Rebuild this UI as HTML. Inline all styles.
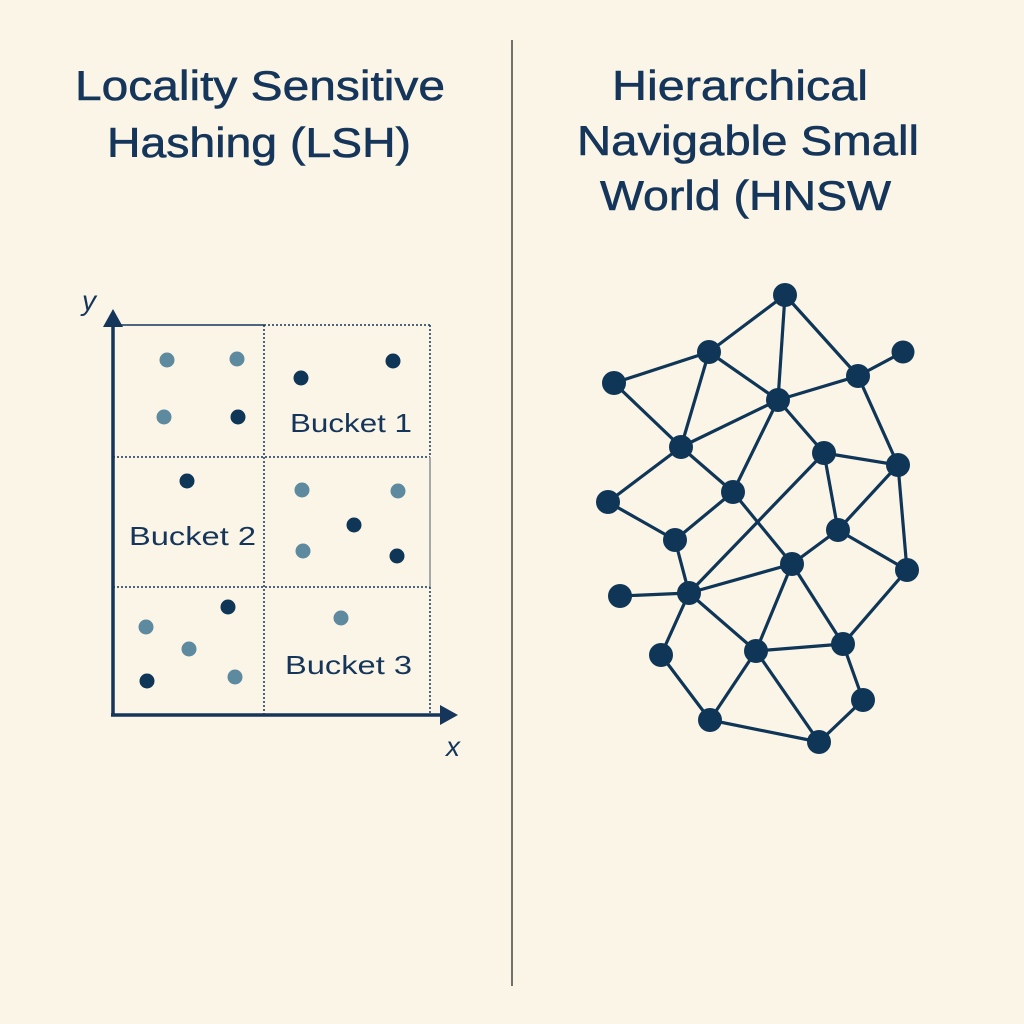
<!DOCTYPE html>
<html><head><meta charset="utf-8"><style>
html,body{margin:0;padding:0;background:#fbf5e7;}
svg{display:block}
text{font-family:"Liberation Sans",sans-serif;fill:#15365a;}
</style></head><body>
<svg width="1024" height="1024" viewBox="0 0 1024 1024" xmlns="http://www.w3.org/2000/svg">
<rect width="1024" height="1024" fill="#fbf5e7"/>
<line x1="512" y1="40" x2="512" y2="986" stroke="#2a2a2a" stroke-width="1.3"/>
<g font-size="42" stroke="#15365a" stroke-width="0.6">
<text x="75" y="100" textLength="370" lengthAdjust="spacingAndGlyphs">Locality Sensitive</text>
<text x="107" y="157" textLength="304" lengthAdjust="spacingAndGlyphs">Hashing (LSH)</text>
<text x="612" y="100" textLength="256" lengthAdjust="spacingAndGlyphs">Hierarchical</text>
<text x="577" y="155" textLength="342" lengthAdjust="spacingAndGlyphs">Navigable Small</text>
<text x="600" y="210" textLength="291" lengthAdjust="spacingAndGlyphs">World (HNSW</text>
</g>
<!-- grid -->
<g stroke="#15365a" stroke-width="1.5" stroke-dasharray="2 2" fill="none">
<line x1="264" y1="325" x2="430" y2="325"/>
<line x1="264" y1="325" x2="264" y2="715"/>
<line x1="430" y1="325" x2="430" y2="457"/>
<line x1="430" y1="587" x2="430" y2="715"/>
<line x1="113" y1="457" x2="430" y2="457"/>
<line x1="113" y1="587" x2="430" y2="587"/>
</g>
<line x1="113" y1="325" x2="264" y2="325" stroke="#15365a" stroke-width="1.5"/>
<line x1="430" y1="457" x2="430" y2="587" stroke="#8a8f96" stroke-width="1.5"/>
<line x1="113" y1="715" x2="113" y2="325" stroke="#15365a" stroke-width="3.5"/>
<line x1="111" y1="715" x2="440" y2="715" stroke="#15365a" stroke-width="3.5"/>
<polygon points="113,309 103,327 123,327" fill="#15365a"/>
<polygon points="458,715 440,705 440,725" fill="#15365a"/>
<text x="82" y="310" font-size="28" font-style="italic">y</text>
<text x="446" y="756" font-size="28" font-style="italic">x</text>
<g fill="#5e8aa0">
<circle cx="167" cy="360" r="7.5"/><circle cx="237" cy="359" r="7.5"/><circle cx="164" cy="417" r="7.5"/>
<circle cx="302" cy="490" r="7.5"/><circle cx="398" cy="491" r="7.5"/><circle cx="303" cy="551" r="7.5"/>
<circle cx="146" cy="627" r="7.5"/><circle cx="189" cy="649" r="7.5"/><circle cx="235" cy="677" r="7.5"/>
<circle cx="341" cy="618" r="7.5"/>
</g>
<g fill="#0f3557">
<circle cx="238" cy="417" r="7.5"/><circle cx="301" cy="378" r="7.5"/><circle cx="393" cy="361" r="7.5"/>
<circle cx="187" cy="481" r="7.5"/><circle cx="354" cy="525" r="7.5"/><circle cx="397" cy="556" r="7.5"/>
<circle cx="228" cy="607" r="7.5"/><circle cx="147" cy="681" r="7.5"/>
</g>
<g font-size="26">
<text x="290" y="432" textLength="122" lengthAdjust="spacingAndGlyphs">Bucket 1</text>
<text x="129" y="545" textLength="127" lengthAdjust="spacingAndGlyphs">Bucket 2</text>
<text x="285" y="674" textLength="127" lengthAdjust="spacingAndGlyphs">Bucket 3</text>
</g>
<!-- graph -->
<g stroke="#0f3557" stroke-width="3.2">
<line x1="785" y1="295" x2="709" y2="352"/><line x1="785" y1="295" x2="778" y2="400"/><line x1="785" y1="295" x2="858" y2="376"/>
<line x1="858" y1="376" x2="903" y2="352"/><line x1="709" y1="352" x2="614" y2="383"/><line x1="709" y1="352" x2="778" y2="400"/>
<line x1="709" y1="352" x2="681" y2="447"/><line x1="614" y1="383" x2="681" y2="447"/><line x1="778" y1="400" x2="858" y2="376"/>
<line x1="778" y1="400" x2="681" y2="447"/><line x1="778" y1="400" x2="733" y2="492"/><line x1="778" y1="400" x2="824" y2="453"/>
<line x1="858" y1="376" x2="898" y2="465"/><line x1="824" y1="453" x2="898" y2="465"/><line x1="824" y1="453" x2="838" y2="530"/>
<line x1="824" y1="453" x2="689" y2="593"/><line x1="898" y1="465" x2="838" y2="530"/><line x1="898" y1="465" x2="907" y2="570"/>
<line x1="681" y1="447" x2="608" y2="502"/><line x1="681" y1="447" x2="733" y2="492"/><line x1="608" y1="502" x2="675" y2="540"/>
<line x1="733" y1="492" x2="675" y2="540"/><line x1="733" y1="492" x2="792" y2="564"/><line x1="838" y1="530" x2="792" y2="564"/>
<line x1="838" y1="530" x2="907" y2="570"/><line x1="675" y1="540" x2="689" y2="593"/><line x1="620" y1="596" x2="689" y2="593"/>
<line x1="689" y1="593" x2="792" y2="564"/><line x1="689" y1="593" x2="756" y2="651"/><line x1="689" y1="593" x2="661" y2="655"/>
<line x1="661" y1="655" x2="710" y2="720"/><line x1="756" y1="651" x2="710" y2="720"/><line x1="792" y1="564" x2="756" y2="651"/>
<line x1="792" y1="564" x2="843" y2="644"/><line x1="756" y1="651" x2="843" y2="644"/><line x1="756" y1="651" x2="819" y2="742"/>
<line x1="843" y1="644" x2="907" y2="570"/><line x1="843" y1="644" x2="863" y2="700"/><line x1="863" y1="700" x2="819" y2="742"/>
<line x1="710" y1="720" x2="819" y2="742"/>
</g>
<g fill="#0f3557">
<circle cx="785" cy="295" r="12"/><circle cx="709" cy="352" r="12"/><circle cx="614" cy="383" r="12"/>
<circle cx="903" cy="352" r="11.5"/><circle cx="858" cy="376" r="12"/><circle cx="778" cy="400" r="12"/>
<circle cx="681" cy="447" r="12"/><circle cx="824" cy="453" r="12"/><circle cx="898" cy="465" r="12"/>
<circle cx="608" cy="502" r="12"/><circle cx="733" cy="492" r="12"/><circle cx="675" cy="540" r="12"/>
<circle cx="838" cy="530" r="12"/><circle cx="792" cy="564" r="12"/><circle cx="907" cy="570" r="12"/>
<circle cx="620" cy="596" r="12"/><circle cx="689" cy="593" r="12"/><circle cx="661" cy="655" r="12"/>
<circle cx="756" cy="651" r="12"/><circle cx="843" cy="644" r="12"/><circle cx="863" cy="700" r="12"/>
<circle cx="710" cy="720" r="12"/><circle cx="819" cy="742" r="12"/>
</g>
</svg>
</body></html>
